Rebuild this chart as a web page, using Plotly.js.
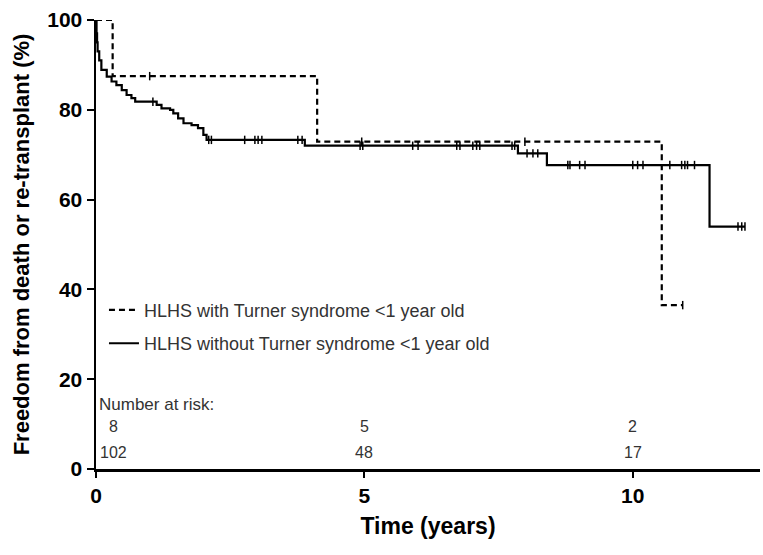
<!DOCTYPE html>
<html>
<head>
<meta charset="utf-8">
<script src="https://cdn.plot.ly/plotly-3.0.1.min.js"></script>
<style>html,body{margin:0;padding:0;background:#fff;}#chart{width:763px;height:555px;}</style>
</head>
<body>
<div id="chart"></div>
<script>
// Kaplan-Meier step data (time in years, freedom in %)
var turnerTimes = [0, 0.31, 4.12, 10.54, 10.93];
var turnerSurv  = [100, 87.5, 72.9, 36.5, 36.5];
var turnerCensor = [1.0, 4.95, 7.99, 10.93];

var nonTurnerTimes = [0, 0.01, 0.02, 0.03, 0.06, 0.10, 0.20, 0.29, 0.38, 0.48, 0.57, 0.66, 0.73,
  1.13, 1.22, 1.38, 1.44, 1.53, 1.63, 1.78, 1.90, 2.00, 2.06, 3.89, 7.86, 8.40, 11.43, 12.09];
var nonTurnerSurv  = [100, 97, 95, 93, 91, 88.9, 87.4, 86.3, 85.5, 84.4, 83.3, 82.6, 81.8,
  81.1, 80.3, 80.0, 79.2, 78.1, 77.0, 76.6, 75.9, 74.4, 73.3, 72.0, 70.3, 67.7, 54.0, 54.0];
var nonTurnerCensor = [1.06, 2.10, 2.15, 2.77, 2.96, 3.02, 3.09, 3.76, 3.84,
  4.92, 4.97, 5.90, 6.00, 6.72, 6.78, 7.02, 7.09, 7.15, 7.75, 7.80,
  8.03, 8.14, 8.23, 8.79, 8.83, 9.01, 9.11, 10.00, 10.09, 10.19, 10.69, 10.91, 10.97, 11.02, 11.15,
  11.96, 12.03, 12.09];

var seriesNames = ["HLHS with Turner syndrome <1 year old", "HLHS without Turner syndrome <1 year old"];
var riskTimes = [0, 5, 10];
var riskTurner = [8, 5, 2];
var riskNonTurner = [102, 48, 17];
var yTicks = [0, 20, 40, 60, 80, 100];
var xTicks = [0, 5, 10];

function stepAt(xs, ys, t) {
  var v = ys[0];
  for (var i = 0; i < xs.length; i++) { if (xs[i] <= t) v = ys[i]; }
  return v;
}

var black = "#000";
var censorMarker = {symbol: "line-ns-open", size: 6, color: black, line: {width: 1.5, color: black}};
var traces = [
  {x: turnerTimes, y: turnerSurv, mode: "lines", line: {shape: "hv", color: black, width: 2.2, dash: "6px,4px"},
   name: seriesNames[0], legendgroup: "a", cliponaxis: false},
  {x: nonTurnerTimes, y: nonTurnerSurv, mode: "lines", line: {shape: "hv", color: black, width: 2.2},
   name: seriesNames[1], legendgroup: "b", cliponaxis: false},
  {x: turnerCensor, y: turnerCensor.map(function(t){return stepAt(turnerTimes, turnerSurv, t);}),
   mode: "markers", marker: censorMarker, showlegend: false, cliponaxis: false},
  {x: nonTurnerCensor, y: nonTurnerCensor.map(function(t){return stepAt(nonTurnerTimes, nonTurnerSurv, t);}),
   mode: "markers", marker: censorMarker, showlegend: false, cliponaxis: false}
];

var textCol = "#333";
var riskFont = {size: 16, color: textCol};
var annotations = [{
  x: 0, y: 14.3, xref: "x", yref: "y", xanchor: "left", yanchor: "middle", xshift: 1,
  text: "Number at risk:", showarrow: false, font: {size: 17, color: textCol}
}];
for (var i = 0; i < riskTimes.length; i++) {
  var sh = i === 0 ? 17 : 0;
  annotations.push({x: riskTimes[i], y: 9.4, xref: "x", yref: "y", xshift: sh, text: String(riskTurner[i]),
    showarrow: false, font: riskFont});
  annotations.push({x: riskTimes[i], y: 3.7, xref: "x", yref: "y", xshift: sh, text: String(riskNonTurner[i]),
    showarrow: false, font: riskFont});
}

var layout = {
  width: 763, height: 555,
  margin: {l: 96, r: 3, t: 20, b: 86},
  paper_bgcolor: "#fff", plot_bgcolor: "#fff",
  font: {family: "Arial, 'Liberation Sans', sans-serif", color: black},
  showlegend: true,
  legend: {x: 0.012, y: 0.395, xanchor: "left", yanchor: "top", bgcolor: "rgba(0,0,0,0)",
    font: {size: 18, color: textCol}, tracegroupgap: 7},
  xaxis: {
    range: [0, 12.37], tickvals: xTicks, ticktext: xTicks.map(String),
    showline: true, linecolor: black, linewidth: 2.5, ticks: "outside", ticklen: 6, tickwidth: 2, tickcolor: black,
    showgrid: false, zeroline: false,
    tickfont: {size: 21, weight: "bold", color: black},
    title: {text: "Time (years)", font: {size: 23, weight: "bold", color: black}, standoff: 12}
  },
  yaxis: {
    range: [0, 100], tickvals: yTicks, ticktext: yTicks.map(String),
    showline: true, linecolor: black, linewidth: 2.5, ticks: "outside", ticklen: 7, tickwidth: 2, tickcolor: black,
    showgrid: false, zeroline: false,
    tickfont: {size: 21, weight: "bold", color: black},
    title: {text: "Freedom from death or re-transplant (%)", font: {size: 22, weight: "bold", color: black}, standoff: 12}
  },
  annotations: annotations
};

Plotly.newPlot("chart", traces, layout, {staticPlot: true, displayModeBar: false});
</script>
</body>
</html>
